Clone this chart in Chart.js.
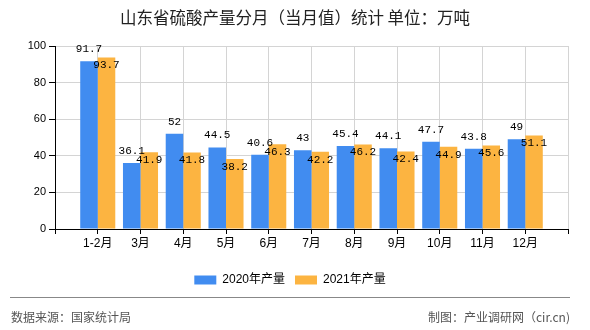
<!DOCTYPE html>
<html>
<head>
<meta charset="utf-8">
<script src="https://cdn.jsdelivr.net/npm/chart.js@4.4.0/dist/chart.umd.min.js"></script>
<style>
  html, body { margin: 0; padding: 0; background: #fff; }
  #wrap { width: 590px; height: 330px; position: relative; }
</style>
</head>
<body>
<div id="wrap"><canvas id="chart" width="590" height="330"></canvas></div>
<script>
// data
const categories = ['1-2月', '3月', '4月', '5月', '6月', '7月', '8月', '9月', '10月', '11月', '12月'];
const seriesNames = ['2020年产量', '2021年产量'];
const values2020 = [91.7, 36.1, 52, 44.5, 40.6, 43, 45.4, 44.1, 47.7, 43.8, 49];
const values2021 = [93.7, 41.9, 41.8, 38.2, 46.3, 42.2, 46.2, 42.4, 44.9, 45.6, 51.1];
const yTicks = [0, 20, 40, 60, 80, 100];

const titleText = '山东省硫酸产量分月（当月值）统计 单位：万吨';
const sourceText = '数据来源：国家统计局';
const creditText = '制图：产业调研网（cir.cn)';

const FONT = "'Liberation Sans', 'Noto Sans CJK SC', sans-serif";
const CJK = "'Noto Sans CJK SC', sans-serif";

// empty slot at each end so categories sit on grid lines
const labels = [''].concat(categories, ['']);
const pad = arr => [null].concat(arr, [null]);

// title, footer and value labels
const extras = {
  id: 'extras',
  afterDatasetsDraw(chart) {
    const ctx = chart.ctx;
    ctx.save();
    ctx.font = "11px 'Liberation Mono', monospace";
    ctx.fillStyle = '#000';
    ctx.textAlign = 'center';
    ctx.textBaseline = 'middle';
    chart.data.datasets.forEach((ds, i) => {
      const meta = chart.getDatasetMeta(i);
      meta.data.forEach((bar, j) => {
        const v = ds.data[j];
        if (v == null) return;
        const dy = i === 0 ? -12 : 8;
        ctx.fillText(String(v), bar.x, bar.y + dy);
      });
    });
    ctx.restore();
  },
  afterDraw(chart) {
    const ctx = chart.ctx;
    ctx.save();
    ctx.fillStyle = '#222';
    ctx.font = '16.5px ' + CJK;
    ctx.textAlign = 'center';
    ctx.textBaseline = 'middle';
    ctx.fillText(titleText, 295, 18);

    ctx.strokeStyle = '#888';
    ctx.lineWidth = 1;
    ctx.beginPath();
    ctx.moveTo(10, 297.5);
    ctx.lineTo(570, 297.5);
    ctx.stroke();

    ctx.fillStyle = '#555';
    ctx.font = '12px ' + CJK;
    ctx.textAlign = 'left';
    ctx.fillText(sourceText, 11, 317);
    ctx.textAlign = 'right';
    ctx.fillText(creditText, 570, 317);
    ctx.restore();
  }
};

new Chart(document.getElementById('chart'), {
  type: 'bar',
  data: {
    labels: labels,
    datasets: [{
      label: seriesNames[0],
      data: pad(values2020),
      backgroundColor: '#418CF0',
      borderWidth: 0,
      categoryPercentage: 0.82,
      barPercentage: 1
    }, {
      label: seriesNames[1],
      data: pad(values2021),
      backgroundColor: '#FCB441',
      borderWidth: 0,
      categoryPercentage: 0.82,
      barPercentage: 1
    }]
  },
  options: {
    responsive: false,
    animation: false,
    devicePixelRatio: 1,
    layout: { padding: { top: 46, right: 22, bottom: 34, left: 12 } },
    scales: {
      x: {
        offset: false,
        grid: { color: '#d4d4d4', tickColor: '#000', tickLength: 5, offset: false },
        border: { color: '#000', width: 1 },
        ticks: { color: '#000', font: { family: FONT, size: 12 }, padding: 2, maxRotation: 0, autoSkip: false },
        afterFit(scale) { scale.height = 35; }
      },
      y: {
        min: yTicks[0],
        max: yTicks[yTicks.length - 1],
        grid: { color: '#d4d4d4', tickColor: '#000', tickLength: 6 },
        border: { color: '#000', width: 1 },
        ticks: {
          stepSize: yTicks[1] - yTicks[0],
          color: '#000',
          font: { family: FONT, size: 11 },
          padding: 3
        },
        afterFit(scale) { scale.width = 43; }
      }
    },
    plugins: {
      title: { display: false },
      tooltip: { enabled: false },
      legend: {
        position: 'bottom',
        labels: {
          boxWidth: 22,
          boxHeight: 9,
          padding: 10,
          color: '#000',
          font: { family: FONT, size: 12 }
        }
      }
    }
  },
  plugins: [extras]
});
</script>
</body>
</html>
